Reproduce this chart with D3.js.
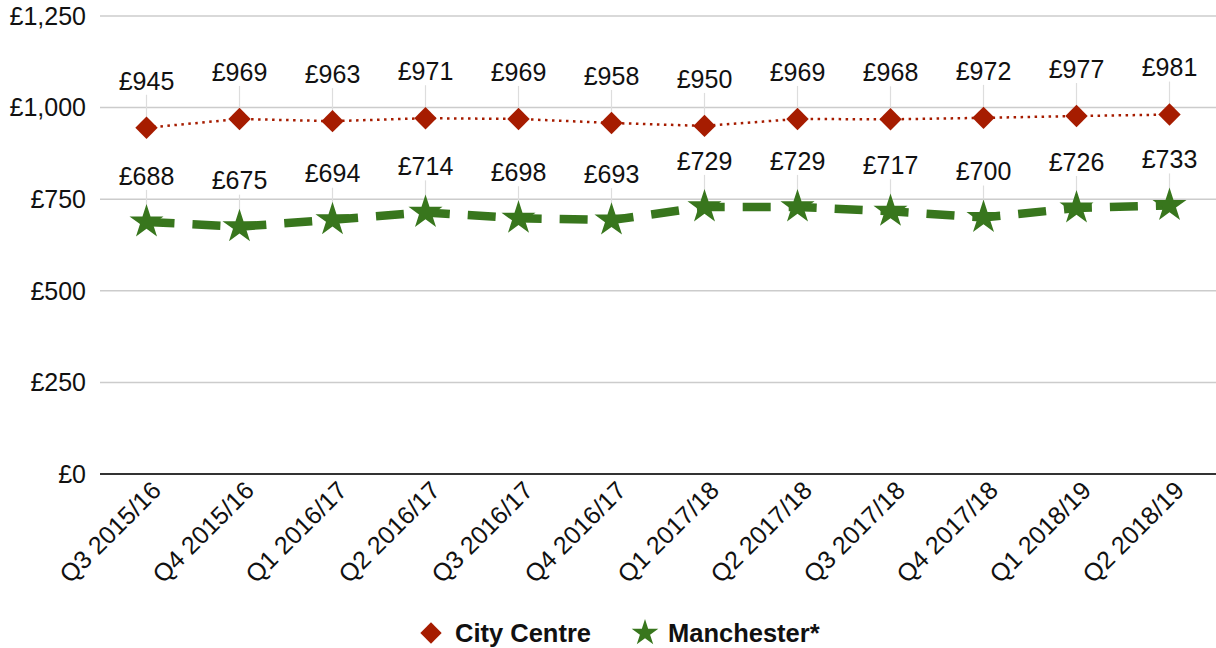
<!DOCTYPE html>
<html>
<head>
<meta charset="utf-8">
<script src="https://cdn.jsdelivr.net/npm/d3@7/dist/d3.min.js"></script>
<style>
  html, body { margin: 0; padding: 0; background: #fff; }
  svg { display: block; font-family: "Liberation Sans", Arial, sans-serif; }
</style>
</head>
<body>
<svg id="chart" width="1216" height="648"></svg>
<script>
// Quarterly figures
const quarters = ["Q3 2015/16", "Q4 2015/16", "Q1 2016/17", "Q2 2016/17", "Q3 2016/17", "Q4 2016/17",
                  "Q1 2017/18", "Q2 2017/18", "Q3 2017/18", "Q4 2017/18", "Q1 2018/19", "Q2 2018/19"];
const cityCentre = [945, 969, 963, 971, 969, 958, 950, 969, 968, 972, 977, 981];
const manchester = [688, 675, 694, 714, 698, 693, 729, 729, 717, 700, 726, 733];
const yTicks = [0, 250, 500, 750, 1000, 1250];

const svg = d3.select("#chart");
const plotLeft = 100, plotRight = 1216, plotTop = 16, plotBottom = 474;

const x = d3.scaleBand().domain(quarters).range([plotLeft, plotRight]);
const y = d3.scaleLinear().domain([0, 1250]).range([plotBottom, plotTop]);
const cx = q => x(q) + x.bandwidth() / 2;
const money = d3.format(",");

// Gridlines and y labels
const grid = svg.append("g");
yTicks.forEach(t => {
  grid.append("line")
    .attr("x1", plotLeft).attr("x2", plotRight)
    .attr("y1", y(t)).attr("y2", y(t))
    .attr("stroke", t === 0 ? "#333" : "#ccc")
    .attr("stroke-width", t === 0 ? 2 : 1.5);
  grid.append("text")
    .attr("x", 86).attr("y", y(t))
    .attr("dy", "0.35em")
    .attr("text-anchor", "end")
    .attr("font-size", 25)
    .attr("fill", "#111")
    .text("£" + money(t));
});

// X axis labels, rotated
const xAxis = d3.axisBottom(x).tickSize(0).tickPadding(0);
const gx = svg.append("g").attr("transform", `translate(0,${plotBottom})`).call(xAxis);
gx.select(".domain").remove();
gx.selectAll("text")
  .attr("font-size", 25)
  .attr("font-family", "Liberation Sans, Arial, sans-serif")
  .attr("fill", "#111")
  .attr("text-anchor", "end")
  .attr("dy", 0)
  .attr("transform", "translate(16,18) rotate(-45)");

const series = [
  { name: "City Centre", values: cityCentre, color: "#a61c00", shape: d3.symbolDiamond2, size: 320, labelOffset: 47,
    width: 2.5, dash: "2.5,4.5" },
  { name: "Manchester*", values: manchester, color: "#38761d", shape: d3.symbolStar, size: 360, labelOffset: 46,
    width: 8.5, dash: "28,18" }
];

const lineGen = d3.line().x(d => cx(d.q)).y(d => y(d.v));

series.forEach(s => {
  const pts = quarters.map((q, i) => ({ q, v: s.values[i] }));
  const g = svg.append("g");

  // leader lines from label to point
  g.selectAll("line.leader").data(pts).join("line")
    .attr("x1", d => cx(d.q)).attr("x2", d => cx(d.q))
    .attr("y1", d => y(d.v) - s.labelOffset + 14)
    .attr("y2", d => y(d.v))
    .attr("stroke", "#ddd").attr("stroke-width", 1.2);

  // series line
  g.append("path").datum(pts)
    .attr("d", lineGen)
    .attr("fill", "none")
    .attr("stroke", s.color)
    .attr("stroke-width", s.width)
    .attr("stroke-dasharray", s.dash);

  // markers
  g.selectAll("path.mark").data(pts).join("path")
    .attr("transform", d => `translate(${cx(d.q)},${y(d.v)})`)
    .attr("d", d3.symbol().type(s.shape).size(s.size))
    .attr("fill", s.color);

  // value labels
  g.selectAll("text.val").data(pts).join("text")
    .attr("x", d => cx(d.q))
    .attr("y", d => y(d.v) - s.labelOffset)
    .attr("dy", "0.35em")
    .attr("text-anchor", "middle")
    .attr("font-size", 25)
    .attr("fill", "#111")
    .text(d => "£" + d.v);
});

// Legend
const legend = svg.append("g").attr("transform", "translate(0,633)");
const legendItems = [
  { s: series[0], mx: 431, tx: 455, size: 290 },
  { s: series[1], mx: 645, tx: 668, size: 220 }
];
legendItems.forEach(({ s, mx, tx, size }) => {
  legend.append("path")
    .attr("transform", `translate(${mx},0)`)
    .attr("d", d3.symbol().type(s.shape).size(size))
    .attr("fill", s.color);
  legend.append("text")
    .attr("x", tx).attr("y", 0).attr("dy", "0.35em")
    .attr("font-size", 25.5).attr("font-weight", "bold")
    .attr("fill", "#111")
    .text(s.name);
});
</script>
</body>
</html>
